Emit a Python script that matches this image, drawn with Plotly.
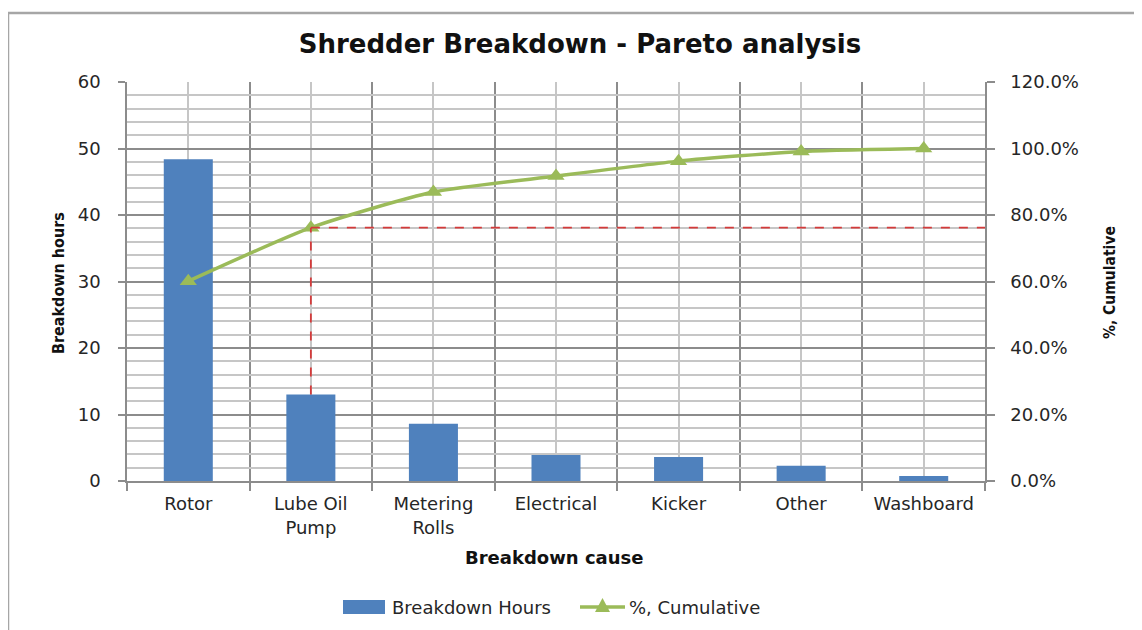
import plotly.graph_objects as go

categories = ["Rotor", "Lube Oil<br>Pump", "Metering<br>Rolls", "Electrical", "Kicker", "Other", "Washboard"]
hours = [48.4, 13.0, 8.6, 3.9, 3.6, 2.3, 0.75]
cumulative_pct = [60.1, 76.2, 86.9, 91.7, 96.2, 99.1, 100.0]
y_ticks = [0, 10, 20, 30, 40, 50, 60]
y2_ticks = [0, 20, 40, 60, 80, 100, 120]
cutoff_index = 1  # Lube Oil Pump: the 80/20 marker
series_names = ["Breakdown Hours", "%, Cumulative"]

xpos = list(range(len(categories)))

# page has an 8px body margin; work in screen pixels and convert
OFF = 8
W, H = 1142 - OFF, 630 - OFF
L, R, T, B = 127, 985, 82, 481  # plot area in screen pixels
pw, ph = R - L, B - T

def px(x):
    return (x - L) / pw

def py(y):
    return (B - y) / ph

BLUE = "#4F81BD"
GREEN = "#9BBB59"
RED = "#D43A3A"
DARK_GRID = "#8C8C8C"
LIGHT_GRID = "#C6C6C6"
TXT = "#262626"
TICKFONT = dict(family="DejaVu Sans, Verdana, sans-serif", size=18, color=TXT)
NARROW = "Liberation Sans Narrow, DejaVu Sans Condensed, Arial Narrow, sans-serif"

fig = go.Figure()
fig.add_trace(go.Bar(
    x=xpos, y=hours, name=series_names[0], marker=dict(color=BLUE, line=dict(width=0)),
    width=0.4, yaxis="y", showlegend=False,
))
fig.add_trace(go.Scatter(
    x=xpos, y=cumulative_pct, name=series_names[1], mode="lines+markers",
    line=dict(color=GREEN, width=3.5, shape="spline", smoothing=0.6),
    marker=dict(symbol="triangle-up", size=15, color=GREEN),
    yaxis="y2", showlegend=False,
))

ymax = y_ticks[-1]
y2max = y2_ticks[-1]
# dashed Pareto cut-off lines
fig.add_shape(type="line", xref="x", yref="y2",
              x0=cutoff_index, x1=len(categories) - 0.5,
              y0=cumulative_pct[cutoff_index], y1=cumulative_pct[cutoff_index],
              line=dict(color=RED, width=1.8, dash="dash"))
fig.add_shape(type="line", xref="x", yref="y2",
              x0=cutoff_index, x1=cutoff_index,
              y0=hours[cutoff_index] * y2max / ymax, y1=cumulative_pct[cutoff_index],
              line=dict(color=RED, width=1.8, dash="dash"))

# chart frame (top and left edges)
fig.add_shape(type="line", xref="paper", yref="paper",
              x0=px(8), x1=px(1150), y0=py(13), y1=py(13),
              line=dict(color="#A6A6A6", width=2.5), layer="above")
fig.add_shape(type="line", xref="paper", yref="paper",
              x0=px(8), x1=px(8), y0=py(13), y1=py(640),
              line=dict(color="#A6A6A6", width=2.5), layer="above")

# manual legend (wide bar swatch, line with triangle)
fig.add_shape(type="rect", xref="paper", yref="paper",
              x0=px(343), x1=px(385), y0=py(614), y1=py(600),
              fillcolor=BLUE, line=dict(width=0))
fig.add_shape(type="line", xref="paper", yref="paper",
              x0=px(580), x1=px(625), y0=py(607), y1=py(607),
              line=dict(color=GREEN, width=3.5))
fig.add_shape(type="path", xref="paper", yref="paper",
              path=f"M {px(595)} {py(612)} L {px(610)} {py(612)} L {px(602.5)} {py(598)} Z",
              fillcolor=GREEN, line=dict(width=0))

fig.update_layout(
    width=W, height=H,
    margin=dict(l=L - OFF, r=(W + OFF) - R, t=T - OFF, b=(H + OFF) - B, autoexpand=False),
    paper_bgcolor="white", plot_bgcolor="white",
    title=dict(text="<b>Shredder Breakdown - Pareto analysis</b>",
               x=(580 - OFF) / W, xanchor="center", y=1 - (44 - OFF) / H, yanchor="middle",
               font=dict(family="DejaVu Sans, sans-serif", size=26, color="#111111")),
    showlegend=False,
    xaxis=dict(
        range=[-0.5, len(categories) - 0.5], tickmode="array", tickvals=xpos, ticktext=categories,
        showgrid=True, gridcolor=LIGHT_GRID, gridwidth=1.5,
        ticks="", tickfont=TICKFONT, ticklabelstandoff=6,
        showline=True, linecolor=DARK_GRID, linewidth=1.5,
        minor=dict(tickmode="linear", tick0=-0.5, dtick=1, showgrid=True,
                   gridcolor=DARK_GRID, gridwidth=1.5, ticks="outside", ticklen=8,
                   tickcolor=DARK_GRID, tickwidth=1.5),
        zeroline=False, fixedrange=True,
    ),
    yaxis=dict(
        range=[0, ymax], tickmode="array", tickvals=y_ticks,
        showgrid=True, gridcolor=DARK_GRID, gridwidth=1.5,
        ticks="outside", ticklen=7, tickcolor=DARK_GRID, tickwidth=1.5,
        tickfont=TICKFONT, ticklabelstandoff=14,
        showline=True, linecolor=DARK_GRID, linewidth=1.5,
        minor=dict(dtick=2, showgrid=True, gridcolor=LIGHT_GRID, gridwidth=1.5),
        zeroline=False,
    ),
    yaxis2=dict(
        range=[0, y2max], overlaying="y", side="right", tickmode="array", tickvals=y2_ticks,
        ticktext=[f"{v:.1f}%" for v in y2_ticks],
        showgrid=False, ticks="outside", ticklen=8, tickcolor=DARK_GRID, tickwidth=1.5,
        tickfont=TICKFONT, ticklabelstandoff=12,
        showline=True, linecolor=DARK_GRID, linewidth=1.5, zeroline=False,
    ),
    annotations=[
        dict(text="<b>Breakdown cause</b>", xref="paper", yref="paper",
             x=px(554), y=py(557), xanchor="center", yanchor="middle", showarrow=False,
             font=dict(family="DejaVu Sans, sans-serif", size=18, color="#111111")),
        dict(text="<b>Breakdown hours</b>", xref="paper", yref="paper",
             x=px(58), y=py(283), xanchor="center", yanchor="middle", showarrow=False,
             textangle=-90,
             font=dict(family=NARROW, size=16, color="#111111")),
        dict(text="<b>%, Cumulative</b>", xref="paper", yref="paper",
             x=px(1110), y=py(283), xanchor="center", yanchor="middle", showarrow=False,
             textangle=-90,
             font=dict(family=NARROW, size=15.5, color="#111111")),
        dict(text=series_names[0], xref="paper", yref="paper",
             x=px(390), y=py(607), xanchor="left", yanchor="middle", showarrow=False,
             font=dict(family="DejaVu Sans, sans-serif", size=18, color=TXT)),
        dict(text=series_names[1], xref="paper", yref="paper",
             x=px(627), y=py(607), xanchor="left", yanchor="middle", showarrow=False,
             font=dict(family="DejaVu Sans, sans-serif", size=18, color=TXT)),
    ],
)

fig.write_html("out.html")
